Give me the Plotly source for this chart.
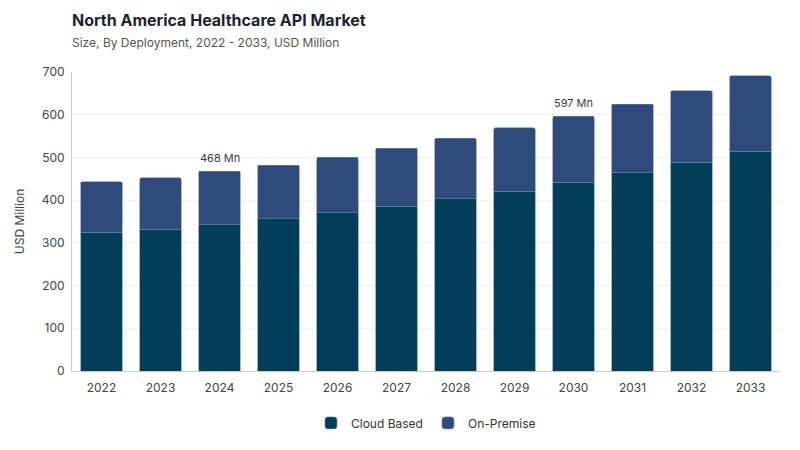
import plotly.graph_objects as go

years = ['2022', '2023', '2024', '2025', '2026', '2027', '2028', '2029', '2030', '2031', '2032', '2033']
cloud_based = [325, 332, 342, 356, 370, 386, 403, 421, 442, 464, 489, 515]
on_premise = [118, 120, 126, 126, 131, 136, 142, 148, 155, 161, 167, 176]
totals = [c + o for c, o in zip(cloud_based, on_premise)]
label_years = ['2024', '2030']
label_texts = ['468 Mn', '597 Mn']

fig = go.Figure()
fig.add_trace(go.Bar(x=years, y=cloud_based, name='Cloud Based',
                     marker=dict(color='#023e5a', line=dict(color='#5f8aa0', width=0.6))))
fig.add_trace(go.Bar(x=years, y=on_premise, name='On-Premise',
                     marker=dict(color='#2f4b7c', line=dict(color='#6f85a8', width=0.6))))

# labels above two of the bars (category index, since name strings upset autorange)
for yr, txt in zip(label_years, label_texts):
    i = years.index(yr)
    fig.add_annotation(x=i, y=totals[i], text=txt, showarrow=False, yshift=13,
                       font=dict(size=11, color='#3a3a4a'))

# page body has an 8px margin, so margins are set 8px smaller on top/left
fig.update_layout(
    barmode='stack',
    bargap=0.29,
    barcornerradius=2,
    width=800, height=450,
    paper_bgcolor='white', plot_bgcolor='white',
    font=dict(family='Inter, Lato, sans-serif', color='#444'),
    title=dict(text='<b>North America Healthcare API Market</b>'
                    '<br><span style="font-size:12px;color:#555">Size, By Deployment, 2022 - 2033, USD Million</span>',
               x=0.08, xanchor='left', y=0.96, yanchor='top',
               font=dict(size=16, color='#1f1f33')),
    margin=dict(l=64, r=28, t=64, b=87, autoexpand=False),
    legend=dict(orientation='h', x=0.5, xanchor='center', y=-0.125, yanchor='top',
                traceorder='normal', font=dict(size=12, color='#333')),
    yaxis=dict(title=dict(text='USD Million', font=dict(size=12, color='#444'), standoff=14),
               range=[0, 700], dtick=100, showgrid=True, gridcolor='#f1f1f1',
               showline=True, linecolor='#cccccc', ticks='outside', ticklen=4, tickcolor='white',
               tickfont=dict(size=12, color='#444'), zeroline=False, automargin=False),
    xaxis=dict(type='category', range=[-0.5, 11.5], showline=True, linecolor='#cccccc',
               tickfont=dict(size=12, color='#444'), ticks='outside', ticklen=6, tickcolor='white',
               automargin=False),
)

fig.write_html('out.html')
